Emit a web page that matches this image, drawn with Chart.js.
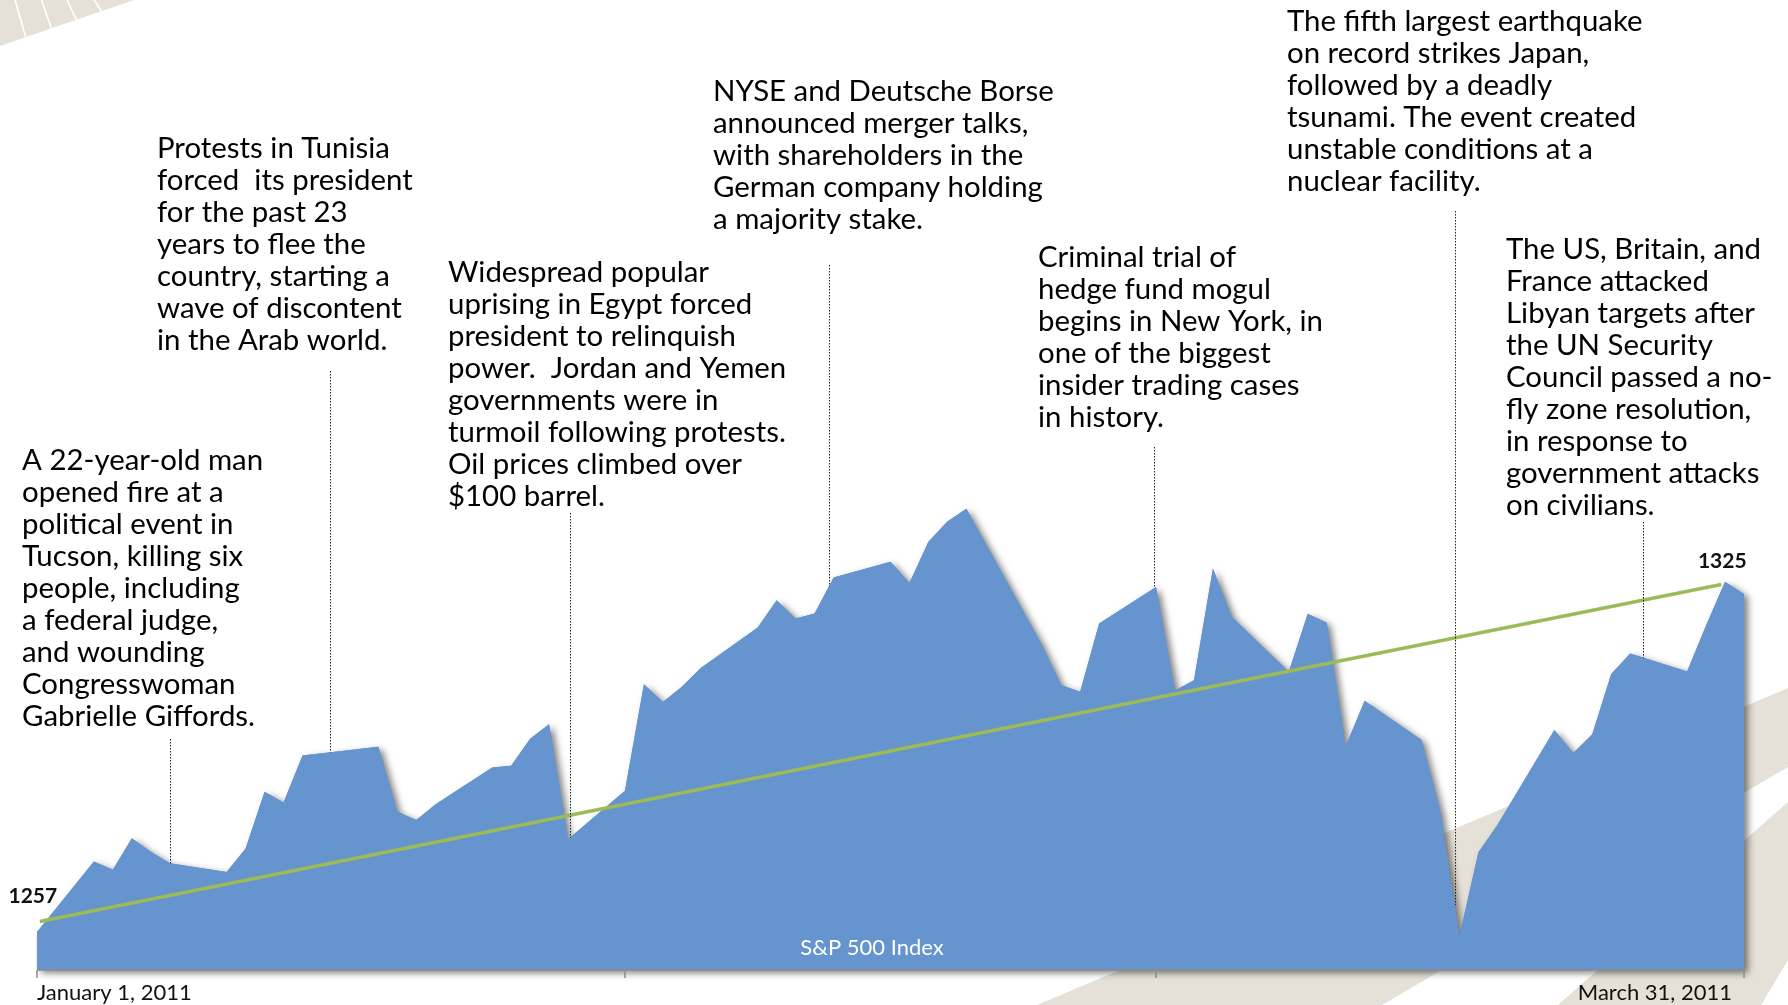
<!DOCTYPE html>
<html>
<head>
<meta charset="utf-8">
<script src="https://cdn.jsdelivr.net/npm/chart.js@4.4.0/dist/chart.umd.min.js"></script>
<style>
  html, body { margin: 0; padding: 0; background: #fff; }
  canvas { display: block; }
</style>
</head>
<body>
<canvas id="sp500" width="1788" height="1005"></canvas>
<script>
// S&P 500 daily closes, Dec 31 2010 - Mar 31 2011
const dates = [
  '2010-12-31',
  '2011-01-03', '2011-01-04', '2011-01-05', '2011-01-06', '2011-01-07', '2011-01-10', '2011-01-11',
  '2011-01-12', '2011-01-13', '2011-01-14', '2011-01-18', '2011-01-19', '2011-01-20', '2011-01-21',
  '2011-01-24', '2011-01-25', '2011-01-26', '2011-01-27', '2011-01-28', '2011-01-31',
  '2011-02-01', '2011-02-02', '2011-02-03', '2011-02-04', '2011-02-07', '2011-02-08', '2011-02-09',
  '2011-02-10', '2011-02-11', '2011-02-14', '2011-02-15', '2011-02-16', '2011-02-17', '2011-02-18',
  '2011-02-22', '2011-02-23', '2011-02-24', '2011-02-25', '2011-02-28',
  '2011-03-01', '2011-03-02', '2011-03-03', '2011-03-04', '2011-03-07', '2011-03-08', '2011-03-09',
  '2011-03-10', '2011-03-11', '2011-03-14', '2011-03-15', '2011-03-16', '2011-03-17', '2011-03-18',
  '2011-03-21', '2011-03-22', '2011-03-23', '2011-03-24', '2011-03-25', '2011-03-28', '2011-03-29',
  '2011-03-30', '2011-03-31'
];
const closes = [
  1257.64,
  1271.87, 1270.20, 1276.56, 1273.85, 1271.50, 1269.75, 1274.48,
  1285.96, 1283.76, 1293.24, 1295.02, 1281.92, 1280.26, 1283.35,
  1290.84, 1291.18, 1296.63, 1299.54, 1276.34, 1286.12,
  1307.59, 1304.03, 1307.10, 1310.87, 1319.05, 1324.57, 1320.88,
  1321.87, 1329.15, 1332.32, 1328.01, 1336.32, 1340.43, 1343.01,
  1315.44, 1307.40, 1306.10, 1319.88, 1327.22,
  1306.33, 1308.44, 1330.97, 1321.15, 1310.13, 1321.82, 1320.02,
  1295.11, 1304.28, 1296.39, 1281.87, 1256.88, 1273.72, 1279.21,
  1298.38, 1293.77, 1297.54, 1309.66, 1313.80, 1310.19, 1319.44,
  1328.26, 1325.83
];

// trend line (days after Dec 31) and its end labels
const trendDays = [0.15, 88.8];
const trendValues = [1259.8, 1327.7];
const trendLabels = ['1257', '1325'];

// axis ticks (days after Dec 31) and end labels
const tickDays = [0, 31, 59, 90];
const axisLabels = ['January 1, 2011', 'March 31, 2011'];
const seriesName = 'S&P 500 Index';

// events: where the leader line meets the area, and the text
const eventDays = [7, 15.45, 28.1, 41.75, 58.9, 74.75, 84.7];
const eventTexts = [
  ['A 22-year-old man', 'opened fire at a', 'political event in', 'Tucson, killing six',
   'people, including', 'a federal judge,', 'and wounding', 'Congresswoman', 'Gabrielle Giffords.'],
  ['Protests in Tunisia', 'forced  its president', 'for the past 23', 'years to flee the',
   'country, starting a', 'wave of discontent', 'in the Arab world.'],
  ['Widespread popular', 'uprising in Egypt forced', 'president to relinquish', 'power.  Jordan and Yemen',
   'governments were in', 'turmoil following protests.', 'Oil prices climbed over', '$100 barrel.'],
  ['NYSE and Deutsche Borse', 'announced merger talks,', 'with shareholders in the',
   'German company holding', 'a majority stake.'],
  ['Criminal trial of', 'hedge fund mogul', 'begins in New York, in', 'one of the biggest',
   'insider trading cases', 'in history.'],
  ['The fifth largest earthquake', 'on record strikes Japan,', 'followed by a deadly',
   'tsunami. The event created', 'unstable conditions at a', 'nuclear facility.'],
  ['The US, Britain, and', 'France attacked', 'Libyan targets after', 'the UN Security',
   'Council passed a no-', 'fly zone resolution,', 'in response to', 'government attacks', 'on civilians.']
];

// layout of the text blocks: left, first line centre, top of leader line
const eventLayout = [
  { x: 22, y: 461, top: 739 },
  { x: 157, y: 149, top: 371 },
  { x: 448, y: 273, top: 513 },
  { x: 713, y: 92, top: 265 },
  { x: 1038, y: 258, top: 447 },
  { x: 1287, y: 22, top: 211 },
  { x: 1506, y: 250, top: 522 }
];

const areaColor = '#6594ce';
const trendColor = '#9bbb59';
const beige = '#e5e1d8';
const FONT = 'Lato, "Open Sans", sans-serif';

const start = Date.parse(dates[0]);
const days = dates.map(d => (Date.parse(d) - start) / 864e5);

function valueAt(day) {
  for (let i = 1; i < days.length; i++) {
    if (day <= days[i]) {
      const t = (day - days[i - 1]) / (days[i] - days[i - 1]);
      return closes[i - 1] + t * (closes[i] - closes[i - 1]);
    }
  }
  return closes[closes.length - 1];
}

const decor = {
  id: 'decor',
  beforeDraw(chart) {
    const ctx = chart.ctx;
    ctx.save();
    ctx.fillStyle = '#fff';
    ctx.fillRect(0, 0, chart.width, chart.height);
    ctx.fillStyle = beige;
    ctx.beginPath();
    ctx.moveTo(0, 0); ctx.lineTo(134, 0); ctx.lineTo(0, 46);
    ctx.closePath(); ctx.fill();
    ctx.strokeStyle = '#fff';
    ctx.lineWidth = 1.6;
    [[15, 0, 26, 38], [41.5, 0, 52, 30], [67, 0, 77, 21], [94, 0, 102, 12]].forEach(s => {
      ctx.beginPath(); ctx.moveTo(s[0], s[1]); ctx.lineTo(s[2], s[3]); ctx.stroke();
    });
    ctx.beginPath();
    ctx.moveTo(1037, 1005); ctx.lineTo(1788, 688); ctx.lineTo(1788, 767); ctx.lineTo(1382, 1005);
    ctx.closePath(); ctx.fill();
    ctx.beginPath();
    ctx.moveTo(1558, 1005); ctx.lineTo(1788, 802); ctx.lineTo(1788, 960); ctx.lineTo(1761, 1005);
    ctx.closePath(); ctx.fill();
    ctx.restore();
  }
};

const areaShadow = {
  id: 'areaShadow',
  beforeDatasetsDraw(chart) {
    const pts = chart.getDatasetMeta(0).data;
    const yS = chart.scales.y;
    const base = yS.getPixelForValue(yS.min);
    const ctx = chart.ctx;
    ctx.save();
    ctx.shadowColor = 'rgba(0,0,0,0.5)';
    ctx.shadowBlur = 7;
    ctx.shadowOffsetX = 4;
    ctx.shadowOffsetY = 3;
    ctx.fillStyle = areaColor;
    ctx.beginPath();
    ctx.moveTo(pts[0].x, base);
    pts.forEach(p => ctx.lineTo(p.x, p.y));
    ctx.lineTo(pts[pts.length - 1].x, base);
    ctx.closePath();
    ctx.fill();
    ctx.restore();
  }
};

const overlay = {
  id: 'overlay',
  afterDraw(chart) {
    const ctx = chart.ctx;
    const xS = chart.scales.x, yS = chart.scales.y;
    const base = yS.getPixelForValue(yS.min);
    ctx.save();

    // axis line and ticks
    ctx.strokeStyle = '#8c8c8c';
    ctx.lineWidth = 1.5;
    ctx.beginPath();
    ctx.moveTo(xS.getPixelForValue(tickDays[0]), base);
    ctx.lineTo(xS.getPixelForValue(tickDays[tickDays.length - 1]), base);
    ctx.stroke();
    tickDays.forEach(d => {
      const px = xS.getPixelForValue(d);
      ctx.beginPath(); ctx.moveTo(px, base); ctx.lineTo(px, base + 8); ctx.stroke();
    });

    ctx.fillStyle = '#111';
    ctx.font = '22px ' + FONT;
    ctx.textBaseline = 'middle';
    ctx.textAlign = 'left';
    ctx.fillText(axisLabels[0], xS.getPixelForValue(tickDays[0]), base + 23);
    ctx.textAlign = 'right';
    ctx.fillText(axisLabels[1], xS.getPixelForValue(tickDays[tickDays.length - 1]) - 12, base + 23);

    // series name inside the area
    ctx.fillStyle = '#fff';
    ctx.textAlign = 'center';
    ctx.fillText(seriesName, 872, base - 22);

    // trend end labels
    ctx.fillStyle = '#111';
    ctx.font = 'bold 21px ' + FONT;
    ctx.fillText(trendLabels[0], xS.getPixelForValue(trendDays[0]) - 7, yS.getPixelForValue(trendValues[0]) - 25);
    ctx.fillText(trendLabels[1], xS.getPixelForValue(trendDays[1]) + 1, yS.getPixelForValue(trendValues[1]) - 23);

    // event leader lines
    ctx.strokeStyle = '#222';
    ctx.lineWidth = 1;
    ctx.setLineDash([1.5, 1.5]);
    eventDays.forEach((d, i) => {
      const px = Math.round(xS.getPixelForValue(d)) + 0.5;
      const py = yS.getPixelForValue(valueAt(d));
      ctx.beginPath(); ctx.moveTo(px, eventLayout[i].top); ctx.lineTo(px, py); ctx.stroke();
    });
    ctx.setLineDash([]);

    // event texts
    ctx.font = '29.4px ' + FONT;
    ctx.textAlign = 'left';
    ctx.fillStyle = '#000';
    eventTexts.forEach((lines, i) => {
      const L = eventLayout[i];
      lines.forEach((t, j) => ctx.fillText(t, L.x, L.y + j * 31.9));
    });
    ctx.restore();
  }
};

new Chart(document.getElementById('sp500'), {
  type: 'line',
  data: {
    datasets: [{
      label: seriesName,
      data: days.map((d, i) => ({ x: d, y: closes[i] })),
      backgroundColor: areaColor,
      borderWidth: 0,
      fill: 'start',
      pointRadius: 0,
      tension: 0,
      order: 2
    }, {
      label: 'Trend',
      data: trendDays.map((d, i) => ({ x: d, y: trendValues[i] })),
      borderColor: trendColor,
      borderWidth: 3.6,
      fill: false,
      pointRadius: 0,
      order: 1
    }]
  },
  options: {
    responsive: false,
    animation: false,
    devicePixelRatio: 1,
    layout: { padding: { left: 37, right: 44, top: 474, bottom: 35 } },
    scales: {
      x: { type: 'linear', min: 0, max: 90, display: false },
      y: { min: 1250, max: 1350, display: false }
    },
    plugins: {
      legend: { display: false },
      tooltip: { enabled: false }
    }
  },
  plugins: [decor, areaShadow, overlay]
});
</script>
</body>
</html>
